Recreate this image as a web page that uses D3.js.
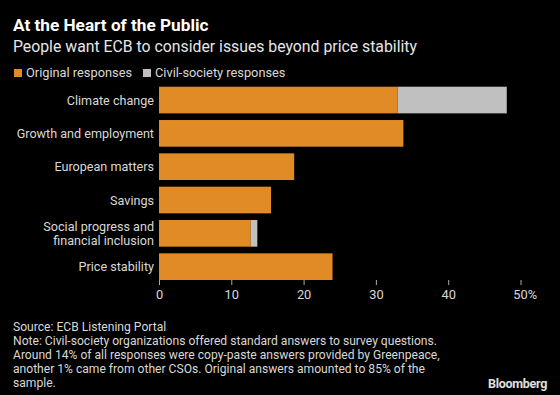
<!DOCTYPE html>
<html>
<head>
<meta charset="utf-8">
<script src="https://cdn.jsdelivr.net/npm/d3@7"></script>
<style>
  body { margin: 0; background: #000; }
  svg { display: block; font-family: Roboto, "Noto Sans", sans-serif; }
</style>
</head>
<body>
<svg id="chart"></svg>
<script>
var categories = ["Climate change", "Growth and employment", "European matters",
    "Savings", "Social progress and\nfinancial inclusion", "Price stability"];
var originalResponses = [33, 33.8, 18.7, 15.5, 12.7, 24];
var civilResponses = [15.1, 0, 0, 0, 0.9, 0];
var seriesNames = ["Original responses", "Civil-society responses"];
var tickValues = [0, 10, 20, 30, 40, 50];
var noteLines = [
    "Source: ECB Listening Portal",
    "Note: Civil-society organizations offered standard answers to survey questions.",
    "Around 14% of all responses were copy-paste answers provided by Greenpeace,",
    "another 1% came from other CSOs. Original answers amounted to 85% of the",
    "sample."
];

var width = 560,
    height = 395;
var colors = ["#e08b26", "#c0c0c0"];

var svg = d3.select("#chart")
    .attr("width", width)
    .attr("height", height);

svg.append("rect").attr("width", width).attr("height", height).attr("fill", "#000");

// titles
svg.append("text")
    .attr("x", 13).attr("y", 31)
    .attr("fill", "#fff")
    .attr("font-size", 17.2)
    .attr("font-weight", "bold")
    .text("At the Heart of the Public");

svg.append("text")
    .attr("x", 13).attr("y", 52)
    .attr("fill", "#e6e6e6")
    .attr("font-size", 15.8)
    .text("People want ECB to consider issues beyond price stability");

// legend
var legend = svg.append("g").attr("transform", "translate(14,69)");
var legendX = [0, 129];
seriesNames.forEach(function(name, i) {
    var g = legend.append("g").attr("transform", "translate(" + legendX[i] + ",0)");
    g.append("rect").attr("width", 8).attr("height", 8).attr("fill", colors[i]);
    g.append("text")
        .attr("x", 12).attr("y", 8)
        .attr("fill", "#d8d8d8")
        .attr("font-size", 12.8)
        .text(name);
});

// scales
var x = d3.scaleLinear().domain([0, 50]).range([159, 520.5]);
var y = d3.scaleBand().domain(categories).range([86.7, 280]).paddingInner(0.2).paddingOuter(0);

var stackData = categories.map(function(c, i) {
    return { cat: c, orig: originalResponses[i], civil: civilResponses[i] };
});
var stack = d3.stack().keys(["orig", "civil"])(stackData);

svg.append("g").selectAll("g")
    .data(stack)
    .enter()
    .append("g")
    .attr("fill", function(d, i) { return colors[i]; })
    .selectAll("rect")
    .data(function(d) { return d.filter(function(p) { return p[1] > p[0]; }); })
    .enter()
    .append("rect")
    .attr("x", function(d) { return x(d[0]); })
    .attr("y", function(d) { return y(d.data.cat); })
    .attr("width", function(d) { return x(d[1]) - x(d[0]); })
    .attr("height", y.bandwidth());

// category labels (multi-line ones get one text per line)
var labelRows = [];
categories.forEach(function(c) {
    var lines = c.split("\n");
    lines.forEach(function(line, j) {
        labelRows.push({ cat: c, text: line, off: j - (lines.length - 1) / 2 });
    });
});

svg.append("g").selectAll("text")
    .data(labelRows)
    .enter()
    .append("text")
    .attr("text-anchor", "end")
    .attr("fill", "#d8d8d8")
    .attr("font-size", 12.6)
    .attr("x", 154)
    .attr("y", function(d) { return y(d.cat) + y.bandwidth() / 2 + 4.5 + d.off * 13.6; })
    .text(function(d) { return d.text; });

// x axis
var xAxis = d3.axisBottom(x)
    .tickValues(tickValues)
    .tickSize(5)
    .tickPadding(5)
    .tickFormat(function(d) { return d == 50 ? d + "%" : d; });

var axisG = svg.append("g")
    .attr("transform", "translate(0,280)")
    .call(xAxis);
axisG.select(".domain").remove();
axisG.selectAll(".tick line").attr("stroke", "#aaa");
axisG.selectAll(".tick text")
    .attr("fill", "#d8d8d8")
    .attr("font-size", 12.8)
    .attr("font-family", "Roboto, sans-serif");
axisG.selectAll(".tick").filter(function(d) { return d == 50; })
    .select("text").attr("text-anchor", "start").attr("dx", "-0.6em");

// footer
svg.append("g").selectAll("text")
    .data(noteLines)
    .enter()
    .append("text")
    .attr("x", 13)
    .attr("y", function(d, i) { return 331 + i * 14; })
    .attr("fill", "#d8d8d8")
    .attr("font-size", 12.1)
    .text(function(d) { return d; });

svg.append("text")
    .attr("x", 547).attr("y", 388)
    .attr("text-anchor", "end")
    .attr("fill", "#e0e0e0")
    .attr("font-size", 12.5)
    .attr("font-weight", "bold")
    .attr("letter-spacing", "-0.3")
    .text("Bloomberg");
</script>
</body>
</html>
